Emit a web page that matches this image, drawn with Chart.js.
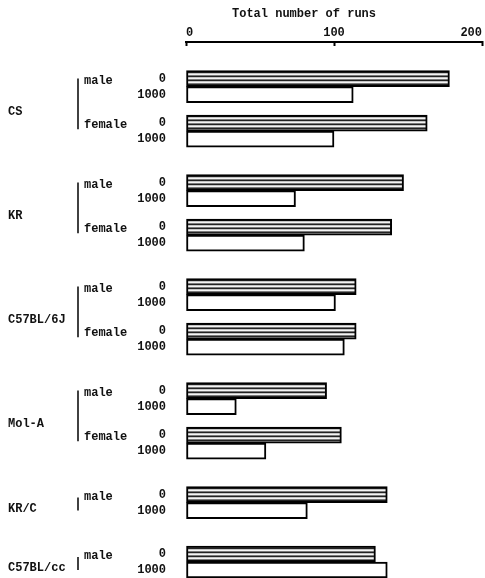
<!DOCTYPE html>
<html>
<head>
<meta charset="utf-8">
<script src="https://cdn.jsdelivr.net/npm/chart.js@4.4.1/dist/chart.umd.min.js"></script>
<style>
html, body { margin: 0; padding: 0; background: #fff; }
#wrap { width: 485px; height: 578px; position: relative; }
</style>
</head>
<body>
<div id="wrap"><canvas id="runsChart"></canvas></div>
<script>
// data
const strains = ['CS', 'KR', 'C57BL/6J', 'Mol-A', 'KR/C', 'C57BL/cc'];
const sexes = [['male', 'female'], ['male', 'female'], ['male', 'female'], ['male', 'female'], ['male'], ['male']];
const doseLabels = ['0', '1000'];
const runsDose0 = [178, 163, 147, 139, 115, 115, 95, 105, 136, 128];
const runsDose1000 = [113, 100, 74, 80, 101, 107, 34, 54, 82, 136];
const xTicks = [0, 100, 200];
const axisTitle = 'Total number of runs';

const FONT = 'Liberation Mono';
const INK = '#111';

// build the category slots: blank slots give the gaps between sexes and strains
const labels = ['', '', ''];
const data0 = [null, null, null];
const data1000 = [null, null, null];
const rows = [];
let k = 0;
strains.forEach((strain, s) => {
    if (s > 0) {
        for (let i = 0; i < 3; i++) { labels.push(''); data0.push(null); data1000.push(null); }
    }
    sexes[s].forEach((sex, j) => {
        if (j > 0) {
            for (let i = 0; i < 2; i++) { labels.push(''); data0.push(null); data1000.push(null); }
        }
        rows.push({ slot: labels.length, strain: s, sex: sex });
        labels.push([...doseLabels]);
        data0.push(runsDose0[k]);
        data1000.push(runsDose1000[k]);
        k++;
    });
});

// horizontal stripe fill for the dose 0 bars
function stripes() {
    const c = document.createElement('canvas');
    c.width = 4; c.height = 4;
    const g = c.getContext('2d');
    const shades = ['#222222', '#c4c4c4', '#f4f4f4', '#7a7a7a'];
    shades.forEach((col, i) => { g.fillStyle = col; g.fillRect(0, i, 4, 1); });
    return g.createPattern(c, 'repeat');
}

// strain names, sex labels and brackets on the left
const leftLabels = {
    id: 'leftLabels',
    afterDraw(chart) {
        const ctx = chart.ctx;
        const y = chart.scales.y;
        const x = chart.scales.x;
        ctx.save();
        ctx.fillStyle = INK;
        ctx.strokeStyle = INK;
        ctx.font = 'bold 12px "' + FONT + '"';
        ctx.textBaseline = 'middle';

        strains.forEach((strain, s) => {
            const mine = rows.filter(r => r.strain === s);
            const ys = mine.map(r => y.getPixelForValue(r.slot));
            ctx.textAlign = 'left';
            mine.forEach((r, i) => ctx.fillText(r.sex, 84, ys[i] - 6));
            let sy;
            ctx.lineWidth = 1.6;
            ctx.beginPath();
            if (ys.length > 1) {
                sy = (ys[0] + ys[ys.length - 1]) / 2 + 3;
                ctx.moveTo(78, ys[0] - 8);
                ctx.lineTo(78, ys[ys.length - 1] - 2);
            } else {
                sy = ys[0] + 6;
                ctx.moveTo(78, ys[0] - 5);
                ctx.lineTo(78, ys[0] + 8);
            }
            ctx.stroke();
            ctx.fillText(strain, 8, sy);
        });

        // axis title
        ctx.textAlign = 'center';
        ctx.fillText(axisTitle, (x.left + x.right) / 2 - 30, 14);
        ctx.restore();
    }
};

Chart.defaults.font.family = FONT;
Chart.defaults.font.weight = 'bold';
Chart.defaults.color = INK;

const ctx = document.getElementById('runsChart').getContext('2d');
const runsChart = new Chart(ctx, {
    type: 'bar',
    data: {
        labels: labels,
        datasets: [
            {
                label: '0',
                data: data0,
                backgroundColor: stripes(),
                borderColor: '#000',
                borderWidth: 2,
                borderSkipped: false,
                barThickness: 16,
                clip: false
            },
            {
                label: '1000',
                data: data1000,
                backgroundColor: '#fff',
                borderColor: '#000',
                borderWidth: 2,
                borderSkipped: false,
                barThickness: 16,
                clip: false
            }
        ]
    },
    options: {
        indexAxis: 'y',
        responsive: true,
        maintainAspectRatio: false,
        animation: false,
        layout: { padding: { top: 0, right: 3, bottom: 16, left: 0 } },
        plugins: {
            legend: { display: false },
            tooltip: { enabled: false }
        },
        scales: {
            x: {
                position: 'top',
                min: 0,
                max: 200,
                afterBuildTicks: scale => { scale.ticks = xTicks.map(v => ({ value: v })); },
                afterFit: scale => { scale.height = 42; scale.paddingLeft = 0; scale.paddingRight = 0; },
                border: { display: true, color: '#000', width: 2 },
                grid: { drawOnChartArea: false, tickLength: -4, tickColor: '#000', tickWidth: 2 },
                ticks: { padding: 6, align: 'inner', font: { size: 12, weight: 'bold' }, color: INK, maxRotation: 0 }
            },
            y: {
                offset: false,
                afterFit: scale => { scale.width = 186; scale.paddingTop = 0; scale.paddingBottom = 0; },
                border: { display: false },
                grid: { display: false, drawTicks: false },
                ticks: {
                    autoSkip: false,
                    padding: 20,
                    font: { size: 12, weight: 'bold', lineHeight: '16px' },
                    color: INK
                }
            }
        }
    },
    plugins: [leftLabels]
});
</script>
</body>
</html>
